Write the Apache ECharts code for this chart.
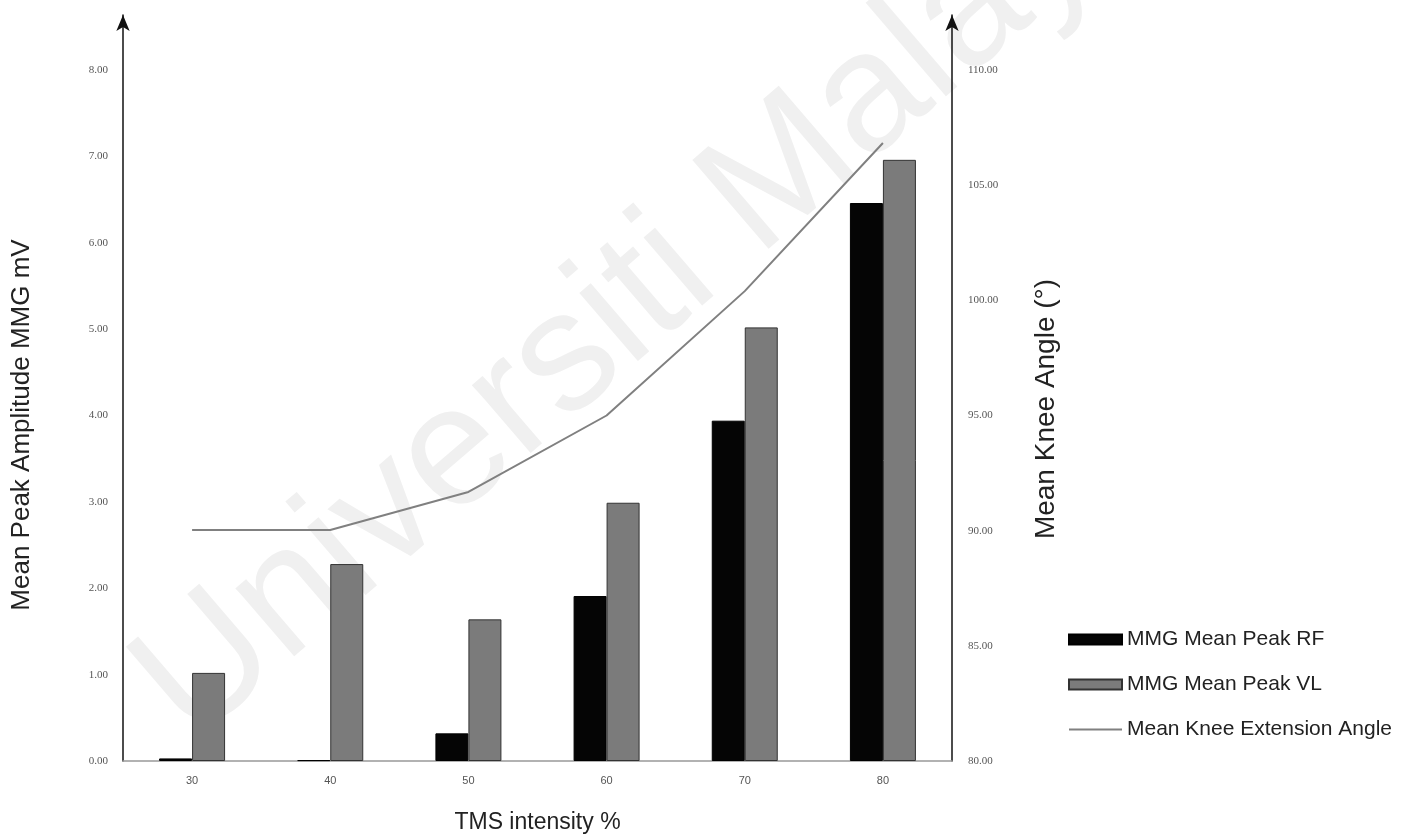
<!DOCTYPE html>
<html>
<head>
<meta charset="utf-8">
<script src="https://cdn.jsdelivr.net/npm/echarts@6/dist/echarts.min.js"></script>
<style>html,body{margin:0;padding:0;background:#fff;}#c{width:1405px;height:837px;}</style>
</head>
<body>
<div id="c"></div>
<script>
const categories = ['30', '40', '50', '60', '70', '80'];
const rfValues = [0.03, 0.01, 0.32, 1.91, 3.94, 6.46];
const vlValues = [1.02, 2.28, 1.64, 2.99, 5.02, 6.96];
const angleValues = [90.03, 90.03, 91.68, 95.0, 100.4, 106.83];
const leftTicks = { min: 0, step: 1, last: 8 };
const rightTicks = { min: 80, step: 5, last: 110 };

const chart = echarts.init(document.getElementById('c'), null, { renderer: 'canvas' });
const gridTop = 15, gridBottom = 76;
const plotH = 837 - gridTop - gridBottom;
// extend axes above the last tick so the arrow sits higher (as in the reference)
const ext = 55;
const leftMax = leftTicks.last + ext * (leftTicks.last - leftTicks.min) / (plotH - ext);
const rightMax = rightTicks.last + ext * (rightTicks.last - rightTicks.min) / (plotH - ext);

const tickFmt = v => (Math.abs(v - Math.round(v)) < 1e-6 ? v.toFixed(2) : '');

chart.setOption({
  backgroundColor: '#ffffff',
  animation: false,
  graphic: [{
    type: 'text', z: -10, x: 217, y: 773, rotation: 0.71, silent: true,
    style: { text: 'Universiti Malaya', fontSize: 170, fontFamily: 'Liberation Sans',
             fill: '#f0f0f0', textVerticalAlign: 'bottom', verticalAlign: 'bottom' }
  }],
  grid: { left: 123, right: 453, top: gridTop, bottom: gridBottom, containLabel: false, outerBoundsMode: 'none' },
  legend: {
    orient: 'vertical', left: 1063, top: 624, itemGap: 24,
    itemWidth: 53, itemHeight: 10,
    textStyle: { fontFamily: 'Liberation Sans', fontSize: 21, color: '#222' },
    data: [
      { name: 'MMG Mean Peak RF', icon: 'rect' },
      { name: 'MMG Mean Peak VL', icon: 'rect' },
      { name: 'Mean Knee Extension Angle', icon: 'path://M0,0 L60,0 L60,2 L0,2 Z' }
    ]
  },
  xAxis: {
    type: 'category', data: categories, boundaryGap: true,
    name: 'TMS intensity %', nameLocation: 'middle', nameGap: 50,
    nameTextStyle: { fontFamily: 'Liberation Sans', fontSize: 23, color: '#222' },
    axisLine: { lineStyle: { color: '#999', width: 1.5 } },
    axisTick: { show: false },
    axisLabel: { margin: 14, fontFamily: 'Liberation Sans', fontSize: 11, color: '#555' }
  },
  yAxis: [{
    type: 'value', min: leftTicks.min, max: leftMax, interval: leftTicks.step,
    name: 'Mean Peak Amplitude MMG mV', nameLocation: 'middle', nameGap: 88,
    nameTextStyle: { fontFamily: 'Liberation Sans', fontSize: 26, color: '#222', padding: [0, 74, 0, 0] },
    axisLine: { show: true, lineStyle: { color: '#111', width: 1.5 }, symbol: ['none', 'arrow'], symbolSize: [10, 16] },
    axisTick: { show: false }, splitLine: { show: false },
    axisLabel: { margin: 15, fontFamily: 'Liberation Serif', fontSize: 11, color: '#555', formatter: tickFmt }
  }, {
    type: 'value', min: rightTicks.min, max: rightMax, interval: rightTicks.step,
    name: 'Mean Knee Angle (°)', nameLocation: 'middle', nameGap: 80, nameRotate: 90,
    nameTextStyle: { fontFamily: 'Liberation Sans', fontSize: 28, color: '#222', padding: [0, 42, 0, 0] },
    axisLine: { show: true, lineStyle: { color: '#111', width: 1.5 }, symbol: ['none', 'arrow'], symbolSize: [10, 16] },
    axisTick: { show: false }, splitLine: { show: false },
    axisLabel: { margin: 16, fontFamily: 'Liberation Serif', fontSize: 11, color: '#555', formatter: tickFmt }
  }],
  series: [{
    name: 'MMG Mean Peak RF', type: 'bar', yAxisIndex: 0, data: rfValues,
    barWidth: 33, barGap: '0%',
    itemStyle: { color: '#050505', borderColor: '#000', borderWidth: 1 }
  }, {
    name: 'MMG Mean Peak VL', type: 'bar', yAxisIndex: 0, data: vlValues,
    barWidth: 33, barGap: '0%',
    itemStyle: { color: '#7b7b7b', borderColor: '#333', borderWidth: 1 }
  }, {
    name: 'Mean Knee Extension Angle', type: 'line', yAxisIndex: 1, data: angleValues,
    symbol: 'none', lineStyle: { color: '#808080', width: 2 }, itemStyle: { color: '#808080' }
  }]
});
</script>
</body>
</html>
